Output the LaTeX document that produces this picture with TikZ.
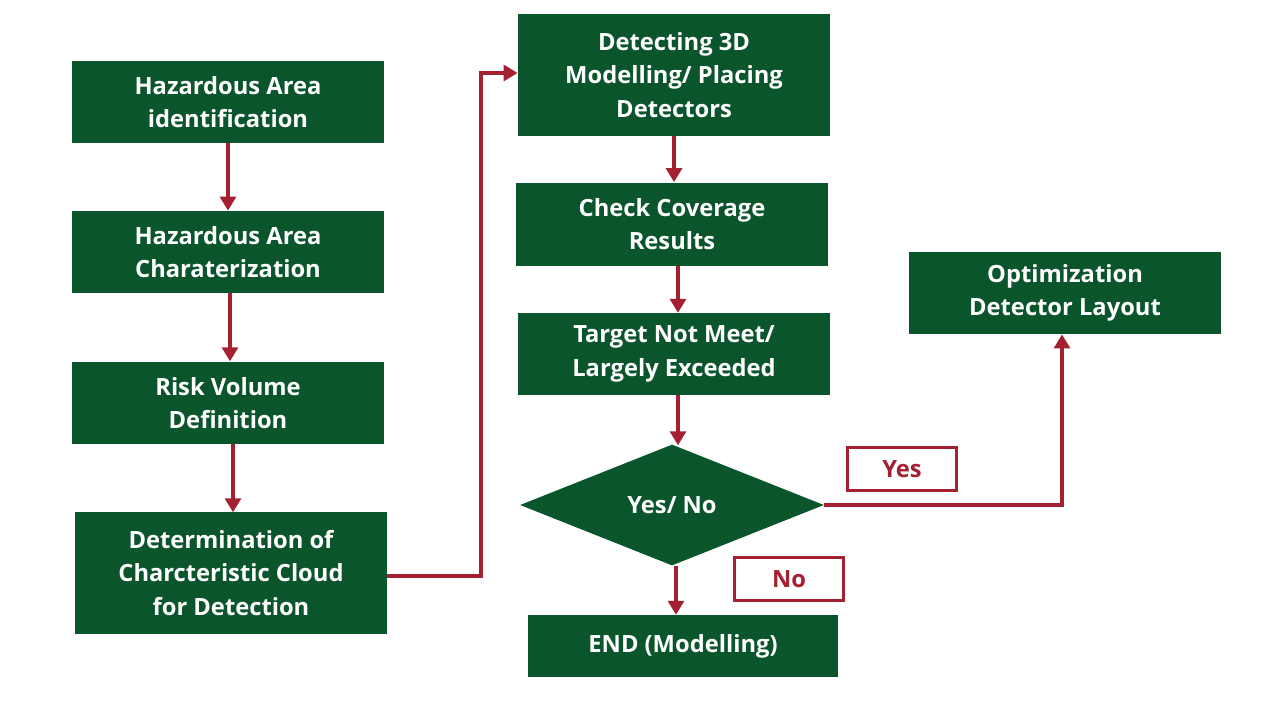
\documentclass[tikz,border=0pt]{standalone}
\usepackage{fontspec}
\setmainfont{Open Sans}
\usetikzlibrary{shapes.geometric,arrows.meta}
\definecolor{gr}{HTML}{0B552C}
\definecolor{rd}{HTML}{A32130}
\begin{document}
\begin{tikzpicture}[x=0.02cm,y=-0.02cm,
box/.style={fill=gr,text=white,font=\bfseries\fontsize{13.5}{19}\selectfont,align=center,inner sep=0pt,minimum width=312*0.02cm},
lab/.style={draw=rd,line width=1.8pt,fill=white,text=rd,font=\bfseries\fontsize{13.5}{19}\selectfont,minimum width=109*0.02cm,minimum height=43*0.02cm,inner sep=0pt},
arr/.style={draw=rd,line width=2.3pt,-{Triangle[length=8pt,width=9pt]}}]
\useasboundingbox[fill=white] (0,0) rectangle (1280,720);
\node[box,minimum height=82*0.02cm] (a) at (228,102) {Hazardous Area\\identification};
\node[box,minimum height=82*0.02cm] (b) at (228,252) {Hazardous Area\\Charaterization};
\node[box,minimum height=82*0.02cm] (c) at (228,403) {Risk Volume\\Definition};
\node[box,minimum height=122*0.02cm] (d) at (231,573) {Determination of\\Charcteristic Cloud\\for Detection};
\node[box,minimum height=122*0.02cm] (e) at (674,75) {Detecting 3D\\Modelling/ Placing\\Detectors};
\node[box,minimum height=83*0.02cm] (f) at (672,224) {Check Coverage\\Results};
\node[box,minimum height=82*0.02cm] (g) at (674,354) {Target Not Meet/\\Largely Exceeded};
\node[diamond,fill=gr,text=white,font=\bfseries\fontsize{13.5}{19}\selectfont,minimum width=304*0.02cm,minimum height=121*0.02cm,aspect=2.5,inner sep=0pt] (h) at (672,505) {Yes/ No};
\node[box,minimum width=310*0.02cm,minimum height=62*0.02cm] (i) at (683,646) {END (Modelling)};
\node[box,minimum height=82*0.02cm] (j) at (1065,293) {Optimization\\Detector Layout};
\node[lab] (y) at (902,469) {Yes};
\node[lab] (n) at (789,579) {No};
\coordinate (k1) at (481,576);
\coordinate (k2) at (481,73);
\coordinate (k3) at (1062,505);
\draw[arr] (a.south) -- (b.north);
\draw[arr] (b.south) ++(2,0) -- ++(0,68);
\draw[arr] (c.south) ++(5,0) -- ++(0,68);
\draw[arr] (d.east |- k1) -- (k1) -- (k2) -- (e.west |- k2);
\draw[arr] (e.south) -- (e.south |- f.north);
\draw[arr] (f.south) ++(6,0) -- ++(0,47);
\draw[arr] (g.south) ++(4,0) -- ++(0,50);
\draw[arr] (h.south) ++(4,0) -- ++(0,49);
\draw[arr] (h.east) -- (k3) -- (k3 |- j.south);
\end{tikzpicture}
\end{document}
